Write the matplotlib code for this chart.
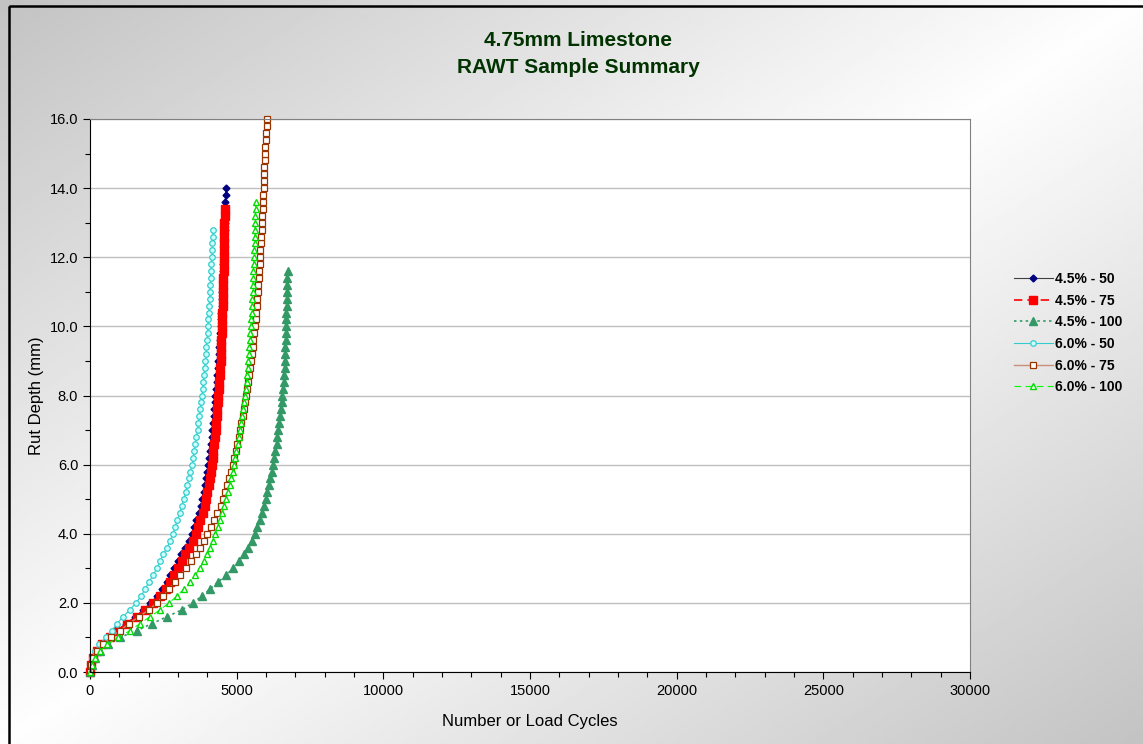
import numpy as np
import matplotlib
matplotlib.use('Agg')
import matplotlib.pyplot as plt
from matplotlib.ticker import MultipleLocator, FormatStrFormatter
from matplotlib.patches import Rectangle

plt.rcParams['font.family'] = ['Liberation Sans', 'DejaVu Sans']

# rut depth levels (mm) shared by all series
depth = [0.0, 0.2, 0.4, 0.6, 0.8, 1.0, 1.2, 1.4, 1.6, 1.8,
         2.0, 2.2, 2.4, 2.6, 2.8, 3.0, 3.2, 3.4, 3.6, 3.8,
         4.0, 4.2, 4.4, 4.6, 4.8, 5.0, 5.2, 5.4, 5.6, 5.8,
         6.0, 6.2, 6.4, 6.6, 6.8, 7.0, 7.2, 7.4, 7.6, 7.8,
         8.0, 8.2, 8.4, 8.6, 8.8, 9.0, 9.2, 9.4, 9.6, 9.8,
         10.0, 10.2, 10.4, 10.6, 10.8, 11.0, 11.2, 11.4, 11.6, 11.8,
         12.0, 12.2, 12.4, 12.6, 12.8, 13.0, 13.2, 13.4, 13.6, 13.8,
         14.0, 14.2, 14.4, 14.6, 14.8, 15.0, 15.2, 15.4, 15.6, 15.8,
         16.0]

# load cycles reached at each depth
c45_50 = [0, 20, 100, 230, 400, 660, 920, 1220, 1540, 1810,
          2060, 2290, 2460, 2610, 2740, 2870, 2990, 3110, 3240, 3360,
          3470, 3550, 3620, 3710, 3780, 3830, 3870, 3910, 3950, 3990,
          4030, 4060, 4090, 4120, 4145, 4170, 4195, 4215, 4235, 4255,
          4275, 4295, 4315, 4335, 4355, 4375, 4390, 4405, 4420, 4435,
          4450, 4462, 4474, 4486, 4498, 4510, 4520, 4530, 4540, 4550,
          4560, 4568, 4576, 4584, 4592, 4600, 4605, 4610, 4615, 4620,
          4625]
c45_75 = [0, 20, 100, 240, 410, 680, 950, 1260, 1600, 1880,
          2150, 2400, 2580, 2730, 2870, 3000, 3120, 3250, 3380, 3500,
          3610, 3680, 3750, 3850, 3920, 3960, 4000, 4040, 4080, 4120,
          4160, 4185, 4210, 4235, 4258, 4280, 4298, 4315, 4332, 4348,
          4365, 4382, 4398, 4415, 4432, 4450, 4460, 4470, 4480, 4490,
          4500, 4507, 4514, 4520, 4527, 4534, 4541, 4548, 4554, 4561,
          4568, 4571, 4575, 4578, 4582, 4585, 4590, 4595]
c45_100 = [0, 68, 170, 341, 614, 1023, 1602, 2114, 2625, 3136,
           3511, 3818, 4091, 4364, 4636, 4875, 5063, 5250, 5386, 5506,
           5608, 5710, 5795, 5864, 5932, 5983, 6040, 6095, 6150, 6200,
           6240, 6280, 6320, 6358, 6392, 6426, 6453, 6480, 6508, 6535,
           6562, 6580, 6597, 6614, 6631, 6648, 6655, 6662, 6668, 6675,
           6682, 6689, 6696, 6702, 6709, 6716, 6722, 6728, 6733]
c60_50 = [0, 30, 70, 170, 310, 550, 750, 920, 1130, 1360,
          1570, 1740, 1880, 2010, 2150, 2280, 2390, 2490, 2630, 2730,
          2830, 2900, 2980, 3055, 3130, 3200, 3260, 3310, 3370, 3420,
          3480, 3515, 3553, 3590, 3628, 3665, 3696, 3726, 3757, 3787,
          3818, 3842, 3866, 3890, 3913, 3937, 3954, 3971, 3988, 4006,
          4023, 4037, 4050, 4064, 4077, 4091, 4103, 4115, 4128, 4140,
          4152, 4162, 4172, 4183, 4193]
c60_75 = [0, 34, 102, 239, 443, 716, 1023, 1330, 1670, 2010,
          2284, 2500, 2710, 2900, 3080, 3260, 3430, 3600, 3750, 3880,
          3990, 4108, 4227, 4346, 4449, 4534, 4602, 4670, 4739, 4807,
          4875, 4925, 4970, 5020, 5065, 5114, 5160, 5205, 5250, 5290,
          5335, 5365, 5395, 5428, 5458, 5489, 5515, 5543, 5570, 5598,
          5625, 5645, 5665, 5686, 5706, 5727, 5741, 5755, 5768, 5782,
          5795, 5809, 5822, 5836, 5850, 5863, 5873, 5884, 5894, 5905,
          5915, 5925, 5935, 5946, 5956, 5966, 5980, 5993, 6007, 6020,
          6034]
c60_100 = [0, 68, 170, 341, 580, 955, 1364, 1705, 2045, 2386,
           2693, 2966, 3204, 3409, 3580, 3750, 3870, 3989, 4091, 4193,
           4278, 4353, 4428, 4500, 4568, 4636, 4697, 4759, 4817, 4865,
           4909, 4950, 4990, 5030, 5072, 5114, 5152, 5190, 5227, 5264,
           5301, 5322, 5342, 5362, 5383, 5403, 5420, 5437, 5454, 5471,
           5488, 5500, 5511, 5523, 5534, 5546, 5555, 5564, 5573, 5582,
           5591, 5600, 5609, 5617, 5626, 5635, 5640, 5645, 5650]

fig = plt.figure(figsize=(11.43, 7.44), dpi=100)

# diagonal gradient: grey corners top-left / bottom-right, light band in between
bg = fig.add_axes([0, 0, 1, 1], zorder=-10)
gx, gy = np.meshgrid(np.linspace(0, 1, 400), np.linspace(0, 1, 300))
t = (gx + gy) / 2
grad = 0.995 - 0.23 * np.abs(2 * t - 1)
bg.imshow(grad, cmap='gray', vmin=0, vmax=1, extent=[0, 1, 1, 0], aspect='auto')
bg.set_xlim(0, 1)
bg.set_ylim(1, 0)
bg.axis('off')
bg.add_patch(Rectangle((8.5 / 1143, 6 / 744), 2, 2, fill=False, ec='black', lw=1.8))

ax = fig.add_axes([90 / 1143, 72 / 744, 880 / 1143, 553 / 744])
ax.set_facecolor('white')

ax.plot(c45_50, depth[:len(c45_50)], color='#404040', lw=0.8, marker='D', ms=3.5,
        mfc='#000080', mec='#000080', label='4.5% - 50', clip_on=False)
ax.plot(c45_75, depth[:len(c45_75)], color='red', lw=1.2, ls=(0, (5, 3)), marker='s', ms=6,
        mfc='red', mec='red', label='4.5% - 75', clip_on=False)
ax.plot(c45_100, depth[:len(c45_100)], color='#339966', lw=1.2, ls=(0, (1.5, 2)), marker='^', ms=6,
        mfc='#339966', mec='#339966', label='4.5% - 100', clip_on=False)
ax.plot(c60_50, depth[:len(c60_50)], color='#33CCCC', lw=0.8, marker='o', ms=4,
        mfc='#CCFFFF', mec='#33CCCC', mew=0.9, label='6.0% - 50', clip_on=False)
ax.plot(c60_75, depth[:len(c60_75)], color='#C8907A', lw=1.0, marker='s', ms=5,
        mfc='white', mec='#993300', mew=0.9, label='6.0% - 75', clip_on=False)
ax.plot(c60_100, depth[:len(c60_100)], color='#00FF00', lw=0.8, ls=(0, (6, 4)), marker='^', ms=5,
        mfc='white', mec='#00DD00', mew=1.0, label='6.0% - 100', clip_on=False)

ax.set_xlim(0, 30000)
ax.set_ylim(0, 16)
ax.yaxis.set_major_locator(MultipleLocator(2))
ax.yaxis.set_minor_locator(MultipleLocator(1))
ax.yaxis.set_major_formatter(FormatStrFormatter('%.1f'))
ax.xaxis.set_major_locator(MultipleLocator(5000))
ax.xaxis.set_minor_locator(MultipleLocator(1000))
ax.tick_params(which='major', direction='out', length=5, width=0.8, labelsize=10.5, colors='black')
ax.tick_params(which='minor', direction='out', length=3.5, width=0.8)
ax.grid(axis='y', which='major', color='#C0C0C0', lw=1.0)
ax.set_axisbelow(True)
for s in ['top', 'right']:
    ax.spines[s].set_color('#808080')
for s in ['left', 'bottom']:
    ax.spines[s].set_color('black')

ax.set_xlabel('Number or Load Cycles', fontsize=12, labelpad=12)
ax.set_ylabel('Rut Depth (mm)', fontsize=12, labelpad=4)

fig.text(578 / 1143, 1 - 54 / 744, '4.75mm Limestone\nRAWT Sample Summary', ha='center', va='center',
         fontsize=15, fontweight='bold', color='#003300', linespacing=1.5)

fig.legend(loc='upper left', bbox_to_anchor=(1007 / 1143, 1 - 265 / 744), frameon=False,
           prop={'weight': 'bold', 'size': 10}, handlelength=2.8, handletextpad=0.15,
           labelspacing=0.55, borderpad=0)

fig.savefig('out.png', dpi=100)
